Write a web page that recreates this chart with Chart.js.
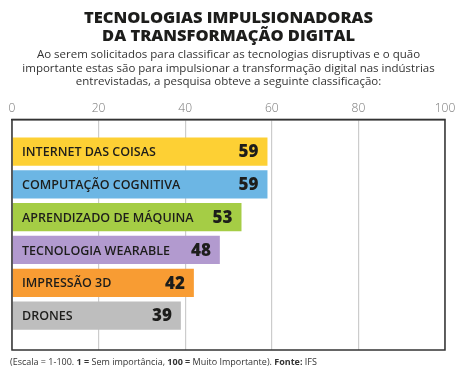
<!DOCTYPE html>
<html>
<head>
<meta charset="utf-8">
<script src="https://cdn.jsdelivr.net/npm/chart.js@4.4.1/dist/chart.umd.min.js"></script>
<style>
html,body{margin:0;padding:0;background:#fff;}
#wrap{width:472px;height:378px;}
</style>
</head>
<body>
<div id="wrap"><canvas id="c" width="472" height="378"></canvas></div>
<script>
const categories = ["INTERNET DAS COISAS","COMPUTAÇÃO COGNITIVA","APRENDIZADO DE MÁQUINA","TECNOLOGIA WEARABLE","IMPRESSÃO 3D","DRONES"];
const values = [59,59,53,48,42,39];
const barColors = ["#FDD034","#6CB6E4","#A5CD45","#B29ACF","#F89C33","#BEBEBE"];
const xTicks = [0,20,40,60,80,100];
const titleLines = ["TECNOLOGIAS IMPULSIONADORAS","DA TRANSFORMAÇÃO DIGITAL"];
const subtitleLines = ["Ao serem solicitados para classificar as tecnologias disruptivas e o quão","importante estas são para impulsionar a transformação digital nas indústrias","entrevistadas, a pesquisa obteve a seguinte classificação:"];
const footerParts = [["(Escala = 1-100. ",false],["1 =",true],[" Sem importância, ",false],["100 =",true],[" Muito Importante). ",false],["Fonte:",true],[" IFS",false]];

const FONT = "'Open Sans', 'Noto Sans', sans-serif";

const decor = {
  id:'decor',
  afterDatasetsDraw(chart){
    const {ctx, chartArea:a} = chart;
    const meta = chart.getDatasetMeta(0);
    ctx.save();
    meta.data.forEach((bar,i)=>{
      const yc = bar.y;
      ctx.fillStyle = '#1d1d1b';
      ctx.textBaseline = 'middle';
      ctx.textAlign = 'left';
      ctx.font = "600 12.5px " + FONT;
      ctx.fillText(categories[i], a.left + 10, yc + 1);
      ctx.textAlign = 'right';
      ctx.font = "800 17px " + FONT;
      ctx.fillText(String(values[i]), bar.x - 9, yc + 1);
    });
    ctx.strokeStyle = '#333';
    ctx.lineWidth = 1.5;
    ctx.strokeRect(a.left, a.top, a.right - a.left, a.bottom - a.top);
    let x = 10;
    const y = 362;
    ctx.textAlign = 'left';
    ctx.textBaseline = 'middle';
    ctx.fillStyle = '#333';
    footerParts.forEach(([t,b])=>{
      ctx.font = (b ? "700 " : "400 ") + "9px " + FONT;
      ctx.fillText(t, x, y);
      x += ctx.measureText(t).width;
    });
    ctx.restore();
  }
};

new Chart(document.getElementById('c'), {
  type:'bar',
  data:{
    datasets:[{
      data: values.map((v,i)=>({x:v, y:i})),
      backgroundColor: barColors,
      borderWidth:0,
      barPercentage:0.88,
      categoryPercentage:1
    }]
  },
  options:{
    indexAxis:'y',
    responsive:false,
    animation:false,
    devicePixelRatio:1,
    layout:{padding:{left:12,right:27,bottom:28,top:4}},
    plugins:{
      legend:{display:false},
      tooltip:{enabled:false},
      title:{display:true,text:titleLines,color:'#1d1d1b',font:{family:FONT,size:16.5,weight:'800',lineHeight:1.05},padding:{top:6,bottom:3}},
      subtitle:{display:true,text:subtitleLines,color:'#333',font:{family:FONT,size:11.5,weight:'400',lineHeight:1.2},padding:{top:0,bottom:8}}
    },
    scales:{
      x:{
        type:'linear', position:'top', min:0, max:100,
        afterBuildTicks(s){ s.ticks = xTicks.map(v=>({value:v})); },
        ticks:{color:'#777',font:{family:FONT,size:12,weight:'300'},padding:4},
        grid:{color:'#cccccc',lineWidth:1.2,drawTicks:false},
        border:{display:true,color:'#333',width:1.5}
      },
      y:{
        type:'linear', reverse:true, min:-0.98, max:6.05, display:false, offset:false,
        grid:{display:false, offset:false}
      }
    }
  },
  plugins:[decor]
});
</script>
</body>
</html>
